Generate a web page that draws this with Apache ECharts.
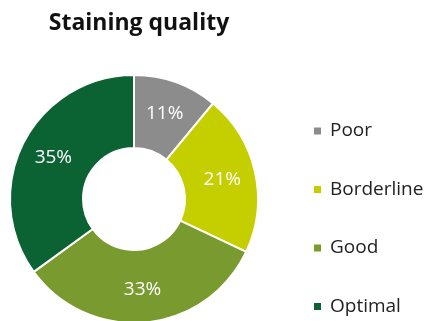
<!DOCTYPE html>
<html>
<head>
<meta charset="utf-8">
<script src="https://cdn.jsdelivr.net/npm/echarts@6/dist/echarts.min.js"></script>
<style>
  html, body { margin: 0; padding: 0; background: #fff; }
  #chart { width: 434px; height: 321px; }
</style>
</head>
<body>
<div id="chart"></div>
<script>
// Staining quality categories and their shares (%)
const categories = ['Poor', 'Borderline', 'Good', 'Optimal'];
const shares = [11, 21, 33, 35];
const colors = ['#8c8c8c', '#c5cf00', '#789a2f', '#0b6334'];

const chart = echarts.init(document.getElementById('chart'));
chart.setOption({
  animation: false,
  title: {
    text: 'Staining quality',
    left: 134,
    textAlign: 'center',
    top: 7,
    textStyle: { fontFamily: 'Open Sans', fontWeight: 'bold', fontSize: 23, color: '#111' }
  },
  legend: {
    orient: 'vertical',
    left: 312,
    top: 121,
    height: 200,
    padding: 0,
    itemWidth: 9,
    itemHeight: 9,
    itemGap: 38.5,
    icon: 'rect',
    data: categories,
    textStyle: { fontFamily: 'Open Sans', fontSize: 19, color: '#222', lineHeight: 20, padding: [0, 0, 0, 3] }
  },
  series: [{
    type: 'pie',
    center: [134, 199],
    radius: [51, 124],
    startAngle: 90,
    clockwise: true,
    itemStyle: { borderColor: '#fff', borderWidth: 2 },
    label: {
      show: true,
      position: 'inside',
      formatter: '{c}%',
      fontFamily: 'Open Sans',
      fontSize: 19,
      color: '#fff'
    },
    labelLine: { show: false },
    data: categories.map((name, i) => ({
      name,
      value: shares[i],
      itemStyle: { color: colors[i] }
    }))
  }]
});
</script>
</body>
</html>
